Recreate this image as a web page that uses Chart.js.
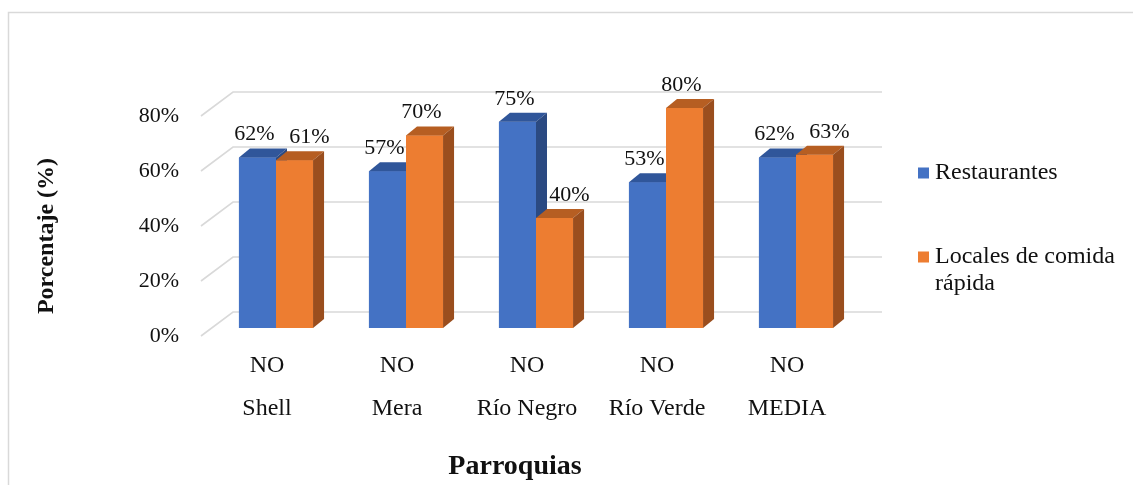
<!DOCTYPE html>
<html>
<head>
<meta charset="utf-8">
<title>Porcentaje por parroquia</title>
<script src="https://cdn.jsdelivr.net/npm/chart.js@4.4.1/dist/chart.umd.min.js"></script>
<style>
  html, body { margin: 0; padding: 0; background: #ffffff; }
  #wrap { position: relative; width: 1133px; height: 485px; }
</style>
</head>
<body>
<div id="wrap"><canvas id="chart"></canvas></div>
<script>
// Data
const parroquias = [['NO', 'Shell'], ['NO', 'Mera'], ['NO', 'Río Negro'], ['NO', 'Río Verde'], ['NO', 'MEDIA']];
const restaurantes = [62, 57, 75, 53, 62];
const comidaRapida = [61, 70, 40, 80, 63];
const seriesNames = ['Restaurantes', 'Locales de comida rápida'];
const yTicks = [0, 20, 40, 60, 80];
const titleX = 'Parroquias';
const titleY = 'Porcentaje (%)';

const SERIF = '"Liberation Serif", "Times New Roman", serif';
const TEXT = '#111111';

// Face colours for each series: front, top, side
const faces = [
  { front: '#4472C4', top: '#30569A', side: '#2B4A82' },
  { front: '#ED7D31', top: '#B65E22', side: '#9A4E1E' }
];

// Draws the pseudo-3D look: floor/wall grid, bar tops and sides, labels, legend, titles
const depthPlugin = {
  id: 'depthBars',
  beforeDraw(chart, args, o) {
    const ctx = chart.ctx;
    ctx.save();
    ctx.strokeStyle = '#D9D9D9';
    ctx.lineWidth = 1.5;
    ctx.beginPath();
    ctx.moveTo(8.5, 485);
    ctx.lineTo(8.5, 12.5);
    ctx.lineTo(1133, 12.5);
    ctx.stroke();
    ctx.restore();
  },
  beforeDatasetsDraw(chart, args, o) {
    const ctx = chart.ctx;
    const ys = chart.scales.y;
    const area = chart.chartArea;
    ctx.save();
    ctx.strokeStyle = '#D9D9D9';
    ctx.lineWidth = 1.6;
    yTicks.forEach(v => {
      const py = ys.getPixelForValue(v);
      const fx = area.left - o.floorDX;
      ctx.beginPath();
      ctx.moveTo(fx, py + o.floorDY);
      ctx.lineTo(fx + o.wallDX, py - o.wallDY);
      ctx.lineTo(area.right + o.wallRight, py - o.wallDY);
      ctx.stroke();
    });
    ctx.restore();
  },
  afterDatasetsDraw(chart, args, o) {
    const ctx = chart.ctx;
    const metas = chart.data.datasets.map((d, i) => chart.getDatasetMeta(i));
    const n = chart.data.labels.length;
    const dx = o.depthX, dy = o.depthY;
    ctx.save();
    for (let i = 0; i < n; i++) {
      metas.forEach((meta, di) => {
        const el = meta.data[i];
        const p = el.getProps(['x', 'y', 'base', 'width'], true);
        const x0 = p.x - p.width / 2, x1 = p.x + p.width / 2;
        const top = p.y, base = p.base;
        const c = faces[di];
        // front face
        ctx.fillStyle = c.front;
        ctx.fillRect(x0, top, p.width, base - top);
        // top face
        ctx.fillStyle = c.top;
        ctx.beginPath();
        ctx.moveTo(x0, top);
        ctx.lineTo(x0 + dx, top - dy);
        ctx.lineTo(x1 + dx, top - dy);
        ctx.lineTo(x1, top);
        ctx.closePath();
        ctx.fill();
        // side face
        ctx.fillStyle = c.side;
        ctx.beginPath();
        ctx.moveTo(x1, top);
        ctx.lineTo(x1 + dx, top - dy);
        ctx.lineTo(x1 + dx, base - dy);
        ctx.lineTo(x1, base);
        ctx.closePath();
        ctx.fill();
      });
    }
    // value labels
    ctx.fillStyle = TEXT;
    ctx.font = o.labelFont;
    ctx.textAlign = 'center';
    ctx.textBaseline = 'middle';
    for (let i = 0; i < n; i++) {
      const vals = chart.data.datasets.map(d => d.data[i]);
      metas.forEach((meta, di) => {
        const p = meta.data[i].getProps(['x', 'y'], true);
        let lx = p.x + o.labelDX;
        // nudge the second label right when it would collide with the first one
        if (di === 1 && vals[1] <= vals[0] + 3) lx = p.x + o.labelShift;
        ctx.fillText(vals[di] + '%', lx, p.y + o.labelDY);
      });
    }
    ctx.restore();
  },
  afterDraw(chart, args, o) {
    const ctx = chart.ctx;
    ctx.save();
    // legend
    ctx.font = o.legendFont;
    ctx.textAlign = 'left';
    ctx.textBaseline = 'middle';
    chart.data.datasets.forEach((d, di) => {
      const y = o.legendY[di];
      ctx.fillStyle = faces[di].front;
      ctx.fillRect(o.legendX, y - 5.5, 11, 11);
      ctx.fillStyle = TEXT;
      // wrap long names
      const words = d.label.split(' ');
      const lines = [];
      let cur = '';
      words.forEach(w => {
        const t = cur ? cur + ' ' + w : w;
        if (ctx.measureText(t).width > o.legendWrap && cur) { lines.push(cur); cur = w; }
        else cur = t;
      });
      lines.push(cur);
      lines.forEach((ln, k) => ctx.fillText(ln, o.legendX + 17, y + k * o.legendLine));
    });
    // axis titles
    ctx.font = o.titleXFont;
    ctx.textAlign = 'center';
    ctx.fillText(titleX, o.titleXPos[0], o.titleXPos[1]);
    ctx.translate(o.titleYPos[0], o.titleYPos[1]);
    ctx.rotate(-Math.PI / 2);
    ctx.font = o.titleYFont;
    ctx.fillText(titleY, 0, 0);
    ctx.restore();
  }
};

new Chart(document.getElementById('chart'), {
  type: 'bar',
  data: {
    labels: parroquias,
    datasets: [
      { label: seriesNames[0], data: restaurantes, backgroundColor: faces[0].front, borderWidth: 0 },
      { label: seriesNames[1], data: comidaRapida, backgroundColor: faces[1].front, borderWidth: 0 }
    ]
  },
  options: {
    responsive: true,
    maintainAspectRatio: false,
    animation: false,
    events: [],
    layout: { padding: { top: 108, right: 272, left: 0, bottom: 0 } },
    datasets: { bar: { categoryPercentage: 0.57, barPercentage: 1.0 } },
    scales: {
      x: {
        grid: { display: false, drawTicks: false },
        border: { display: false },
        ticks: {
          color: TEXT,
          font: { family: SERIF, size: 24, lineHeight: '43px' },
          padding: 16,
          labelOffset: -9,
          maxRotation: 0,
          autoSkip: false
        },
        afterFit: s => { s.height = 157; }
      },
      y: {
        min: 0,
        max: 80,
        grid: { display: false, drawTicks: false },
        border: { display: false },
        ticks: {
          stepSize: 20,
          color: TEXT,
          font: { family: SERIF, size: 22 },
          padding: 32,
          labelOffset: 8,
          callback: v => v + '%'
        },
        afterFit: s => { s.width = 211; }
      }
    },
    plugins: {
      legend: { display: false },
      tooltip: { enabled: false },
      depthBars: {
        floorDX: 10, floorDY: 8,
        wallDX: 32, wallDY: 16, wallRight: 21,
        depthX: 11, depthY: 9,
        labelFont: '22px ' + SERIF,
        labelDX: -3, labelDY: -23, labelShift: 15,
        legendFont: '24px ' + SERIF,
        legendX: 918, legendY: [173, 257], legendLine: 27, legendWrap: 190,
        titleXFont: 'bold 28px ' + SERIF, titleXPos: [515, 467],
        titleYFont: 'bold 24px ' + SERIF, titleYPos: [47, 236]
      }
    }
  },
  plugins: [depthPlugin]
});
</script>
</body>
</html>
